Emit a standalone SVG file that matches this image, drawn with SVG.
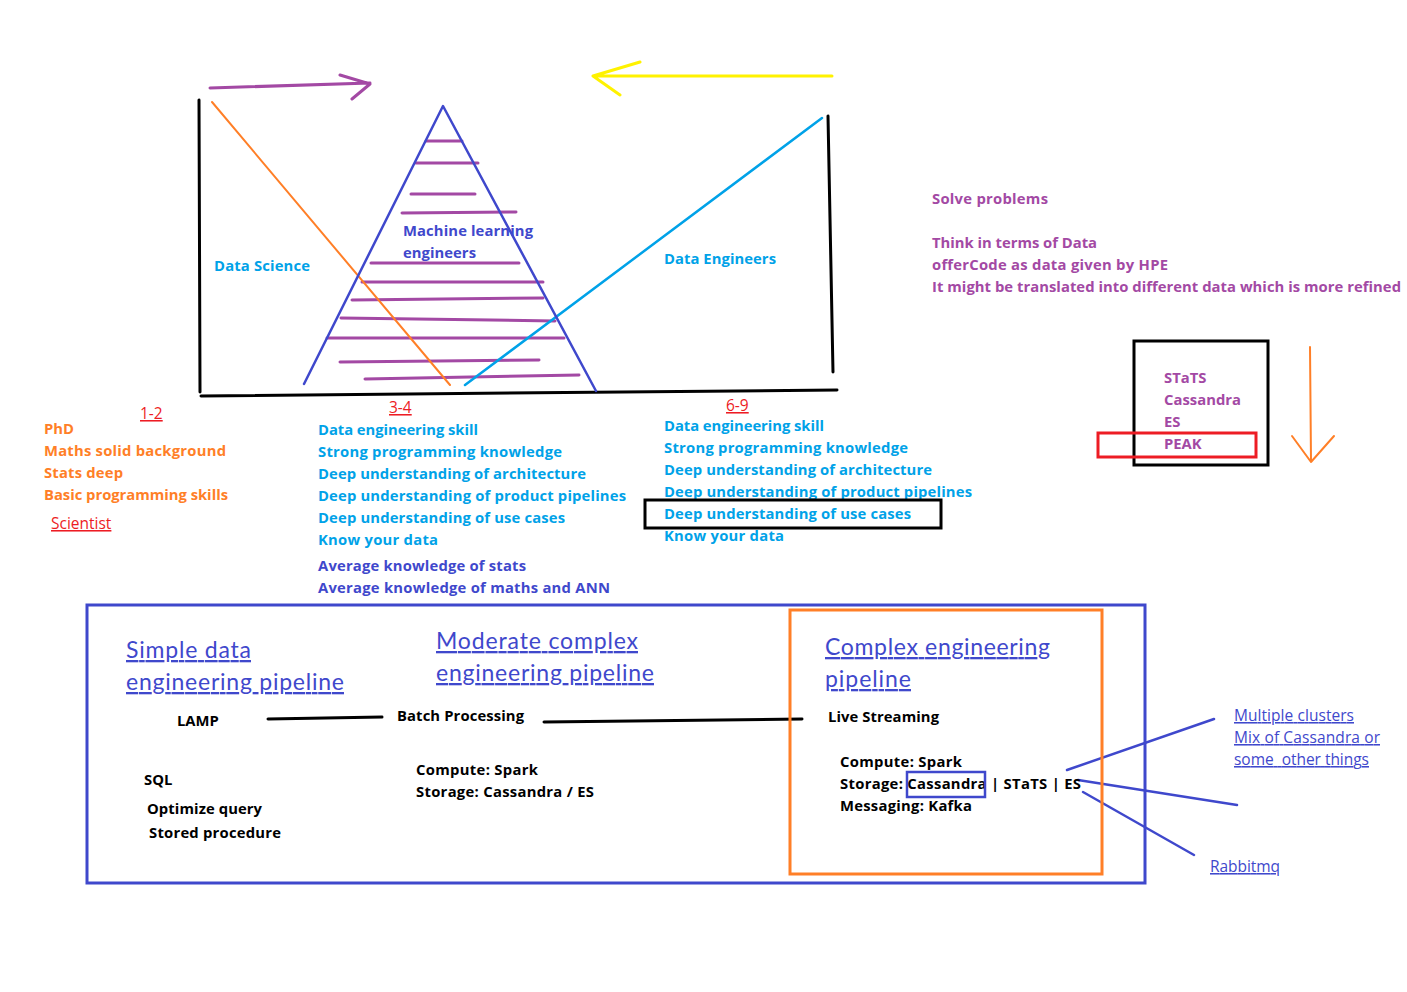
<svg xmlns="http://www.w3.org/2000/svg" width="1407" height="992" viewBox="0 0 1407 992">
<style>
.b{font-family:"Open Sans","Noto Sans",sans-serif;font-weight:bold;font-size:14.8px}
.r{font-family:"Open Sans","Noto Sans",sans-serif;font-weight:normal}
.cy{fill:#00a2e8}.pu{fill:#a349a4}.ind{fill:#3f48cc}.or{fill:#ff7f27}.rd{fill:#ed1c24}.bk{fill:#000}
.h{font-family:"Lato","Open Sans",sans-serif;font-size:23px;fill:#3f48cc;text-decoration:underline}
.u{text-decoration:underline}
.ln{fill:none;stroke-linecap:round;stroke-linejoin:round}
</style>
<rect width="1407" height="992" fill="#fff"/>
<g id="connectors">
  <path class="ln" d="M210 88 L370 83 M340 75 L370 84 L352 99" stroke="#a349a4" stroke-width="3"/>
  <path class="ln" d="M832 76 L593 76 M640 62 L593 76 L620 95" stroke="#fff200" stroke-width="3"/>
  <path class="ln" d="M1310 347 L1311 462 M1292 436 L1311 462 L1334 436" stroke="#ff7f27" stroke-width="2"/>
  <path class="ln" d="M268 719 L382 717" stroke="#000" stroke-width="3"/>
  <path class="ln" d="M544 722 L802 719" stroke="#000" stroke-width="3"/>
  <path class="ln" d="M1067 770 L1214 719 M1078 780 L1237 805 M1083 792 L1194 855" stroke="#3f48cc" stroke-width="2.5"/>
</g>
<g id="chart">
  <path class="ln" d="M199 100 L200 392" stroke="#000" stroke-width="3"/>
  <path class="ln" d="M828 116 L833 372" stroke="#000" stroke-width="3"/>
  <path class="ln" d="M201 396 L837 390" stroke="#000" stroke-width="3"/>
  <g id="stripes" stroke="#a349a4" stroke-width="3" class="ln">
    <path d="M426 141 L462 141"/>
    <path d="M416 163 L478 163"/>
    <path d="M411 194 L475 194"/>
    <path d="M402 213 L516 212"/>
    <path d="M371 263 L519 263"/>
    <path d="M362 282 L543 282"/>
    <path d="M352 300 L543 298"/>
    <path d="M341 318 L555 321"/>
    <path d="M327 338 L564 338"/>
    <path d="M340 362 L539 360"/>
    <path d="M365 379 L579 375"/>
  </g>
  <path class="ln" d="M212 102 L450 385" stroke="#ff7f27" stroke-width="2"/>
  <path class="ln" d="M822 118 L465 385" stroke="#00a2e8" stroke-width="2.5"/>
  <path class="ln" d="M304 384 L443 106 L596 391" stroke="#3f48cc" stroke-width="2.5"/>
  <text class="b cy" x="214" y="271" textLength="96">Data Science</text>
  <text class="b ind" x="403" y="236" textLength="130">Machine learning</text>
  <text class="b ind" x="403" y="258" textLength="73">engineers</text>
  <text class="b cy" x="664" y="264" textLength="112">Data Engineers</text>
</g>
<g id="notes">
  <text class="b pu" x="932" y="204" textLength="116">Solve problems</text>
  <text class="b pu" x="932" y="248" textLength="165">Think in terms of Data</text>
  <text class="b pu" x="932" y="270" textLength="236">offerCode as data given by HPE</text>
  <text class="b pu" x="932" y="292" textLength="469">It might be translated into different data which is more refined</text>
</g>
<g id="peak-box">
  <rect x="1134" y="341" width="134" height="124" fill="none" stroke="#000" stroke-width="3"/>
  <text class="b pu" x="1164" y="383">STaTS</text>
  <text class="b pu" x="1164" y="405" textLength="77">Cassandra</text>
  <text class="b pu" x="1164" y="427">ES</text>
  <text class="b pu" x="1164" y="449">PEAK</text>
  <rect x="1098" y="433" width="158" height="24" fill="none" stroke="#ed1c24" stroke-width="3"/>
</g>
<g id="col-1-2">
  <text class="r rd u" x="140" y="419" font-size="15.5">1-2</text>
  <text class="b or" x="44" y="434">PhD</text>
  <text class="b or" x="44" y="456" textLength="182">Maths solid background</text>
  <text class="b or" x="44" y="478" textLength="79">Stats deep</text>
  <text class="b or" x="44" y="500" textLength="184">Basic programming skills</text>
  <text class="r rd u" x="51" y="529" font-size="15.5">Scientist</text>
</g>
<g id="col-3-4">
  <text class="r rd u" x="389" y="413" font-size="15.5">3-4</text>
  <text class="b cy" x="318" y="435" textLength="160">Data engineering skill</text>
  <text class="b cy" x="318" y="457" textLength="244">Strong programming knowledge</text>
  <text class="b cy" x="318" y="479" textLength="268">Deep understanding of architecture</text>
  <text class="b cy" x="318" y="501" textLength="308">Deep understanding of product pipelines</text>
  <text class="b cy" x="318" y="523" textLength="247">Deep understanding of use cases</text>
  <text class="b cy" x="318" y="545" textLength="120">Know your data</text>
  <text class="b ind" x="318" y="571" textLength="208">Average knowledge of stats</text>
  <text class="b ind" x="318" y="593" textLength="292">Average knowledge of maths and ANN</text>
</g>
<g id="col-6-9">
  <text class="r rd u" x="726" y="411" font-size="15.5">6-9</text>
  <text class="b cy" x="664" y="431" textLength="160">Data engineering skill</text>
  <text class="b cy" x="664" y="453" textLength="244">Strong programming knowledge</text>
  <text class="b cy" x="664" y="475" textLength="268">Deep understanding of architecture</text>
  <text class="b cy" x="664" y="497" textLength="308">Deep understanding of product pipelines</text>
  <text class="b cy" x="664" y="519" textLength="247">Deep understanding of use cases</text>
  <text class="b cy" x="664" y="541" textLength="120">Know your data</text>
  <rect x="645" y="500" width="296" height="28" fill="none" stroke="#000" stroke-width="3"/>
</g>
<g id="pipelines">
  <rect x="87" y="605" width="1058" height="278" fill="none" stroke="#3f48cc" stroke-width="3"/>
  <rect x="790" y="610" width="312" height="264" fill="none" stroke="#ff7f27" stroke-width="3"/>
</g>
<g id="simple">
  <text class="h" x="126" y="658" textLength="125">Simple data</text>
  <text class="h" x="126" y="690" textLength="218">engineering pipeline</text>
  <text class="b bk" x="177" y="726">LAMP</text>
  <text class="b bk" x="144" y="785">SQL</text>
  <text class="b bk" x="147" y="814" textLength="115">Optimize query</text>
  <text class="b bk" x="149" y="838" textLength="132">Stored procedure</text>
</g>
<g id="moderate">
  <text class="h" x="436" y="649" textLength="202">Moderate complex</text>
  <text class="h" x="436" y="681" textLength="218">engineering pipeline</text>
  <text class="b bk" x="397" y="721" textLength="127">Batch Processing</text>
  <text class="b bk" x="416" y="775" textLength="122">Compute: Spark</text>
  <text class="b bk" x="416" y="797" textLength="178">Storage: Cassandra / ES</text>
</g>
<g id="complex">
  <text class="h" x="825" y="655" textLength="225">Complex engineering</text>
  <text class="h" x="825" y="687" textLength="86">pipeline</text>
  <text class="b bk" x="828" y="722" textLength="111">Live Streaming</text>
  <text class="b bk" x="840" y="767" textLength="122">Compute: Spark</text>
  <text class="b bk" x="840" y="789" textLength="241">Storage: Cassandra | STaTS | ES</text>
  <text class="b bk" x="840" y="811" textLength="132">Messaging: Kafka</text>
  <rect x="907" y="772" width="78" height="25" fill="none" stroke="#3f48cc" stroke-width="2.5"/>
</g>
<g id="annotations">
  <text class="r ind u" x="1234" y="721" font-size="15.5" textLength="120">Multiple clusters</text>
  <text class="r ind u" x="1234" y="743" font-size="15.5" textLength="146">Mix of Cassandra or</text>
  <text class="r ind u" x="1234" y="765" font-size="15.5" xml:space="preserve" textLength="135">some  other things</text>
  <text class="r ind u" x="1210" y="872" font-size="15.5" textLength="70">Rabbitmq</text>
</g>
</svg>
